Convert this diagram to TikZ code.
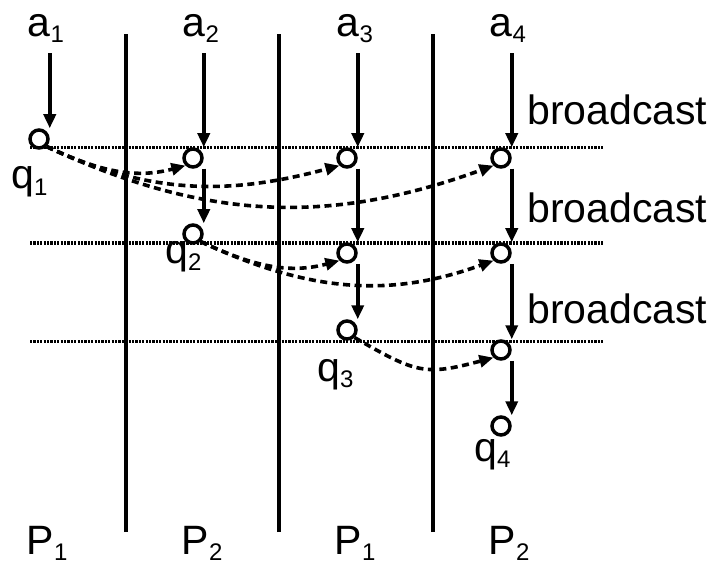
\documentclass[tikz,border=0pt]{standalone}
\usepackage{fontspec}
\setmainfont{Liberation Sans}
\usetikzlibrary{arrows.meta,calc}
\newcommand{\ix}[1]{\raisebox{-6pt}{\fontsize{24}{24}\selectfont #1}}

\begin{document}
\begin{tikzpicture}[x=1pt,y=1pt,
    evt/.style={circle,draw,line width=3.5pt,minimum size=18pt,inner sep=0pt},
    lab/.style={font=\fontsize{41}{48}\selectfont,inner sep=0pt},
    flow/.style={line width=3.5pt,-{Triangle[length=14pt,width=12pt]}},
    bcast/.style={line width=3.6pt,dash pattern=on 7pt off 4.5pt,-{Triangle[length=14pt,width=12pt]}},
    guide/.style={line width=3pt,dash pattern=on 2.2pt off 1.2pt},
    wall/.style={line width=3.5pt}]
\useasboundingbox (0,0) rectangle (715,566);

% rounds and process borders
\foreach \y in {418,323,225}
    \draw[guide] (30,\y) -- (603,\y);
\foreach \x in {126,279,433}
    \draw[wall] (\x,34) -- (\x,532);

% inputs and processes
\node[lab,anchor=base] (a1) at (46,529) {a\ix{1}};
\node[lab,anchor=base] (a2) at (201,529) {a\ix{2}};
\node[lab,anchor=base] (a3) at (355,529) {a\ix{3}};
\node[lab,anchor=base] (a4) at (508,529) {a\ix{4}};
\node[lab,anchor=base] (p1) at (47,12) {P\ix{1}};
\node[lab,anchor=base] (p2) at (202,12) {P\ix{2}};
\node[lab,anchor=base] (p3) at (355,12) {P\ix{1}};
\node[lab,anchor=base] (p4) at (509,12) {P\ix{2}};

% events
\node[evt] (q1) at (39,427) {};
\node[evt] (r21) at (193,408) {};
\node[evt] (r31) at (347,408) {};
\node[evt] (r41) at (501,408) {};
\node[evt] (q2) at (193,332) {};
\node[evt] (r32) at (347,313) {};
\node[evt] (r42) at (501,313) {};
\node[evt] (q3) at (347,236) {};
\node[evt] (r43) at (501,216) {};
\node[evt] (q4) at (501,140) {};

\node[lab,anchor=base west] (lq1) at (11,377) {q\ix{1}};
\node[lab,anchor=base west] (lq2) at (165,302) {q\ix{2}};
\node[lab,anchor=base west] (lq3) at (317,185) {q\ix{3}};
\node[lab,anchor=base west] (lq4) at (474,105) {q\ix{4}};

\node[lab,anchor=base west] (bc1) at (527,441) {broadcast};
\node[lab,anchor=base west] (bc2) at (527,343) {broadcast};
\node[lab,anchor=base west] (bc3) at (527,243) {broadcast};

% local steps
\path[flow]
    ($(a1.south -| q1.east)+(0,-10)$) edge (q1.north -| q1.east)
    ($(a2.south -| r21.east)+(0,-10)$) edge (r21.north -| r21.east)
    ($(a3.south -| r31.east)+(0,-10)$) edge (r31.north -| r31.east)
    ($(a4.south -| r41.east)+(0,-10)$) edge (r41.north -| r41.east)
    (r21.south -| r21.east) edge (q2.north -| q2.east)
    (r31.south -| r31.east) edge (r32.north -| r32.east)
    (r32.south -| r32.east) edge (q3.north -| q3.east)
    (r41.south -| r41.east) edge (r42.north -| r42.east)
    (r42.south -| r42.east) edge (r43.north -| r43.east)
    (r43.south -| r43.east) edge (q4.north -| q4.east);

% messages
\path[bcast]
    (q1.south east) edge[out=-25,in=195] (r21.south west)
    (q1.south east) edge[out=-25,in=195] (r31.south west)
    (q1.south east) edge[out=-25,in=200] (r41.south west)
    (q2.south east) edge[out=-25,in=195] (r32.south west)
    (q2.south east) edge[out=-25,in=200] (r42.south west)
    (q3.south east) edge[out=-30,in=195,looseness=1.3] (r43.south west);
\end{tikzpicture}
\end{document}
